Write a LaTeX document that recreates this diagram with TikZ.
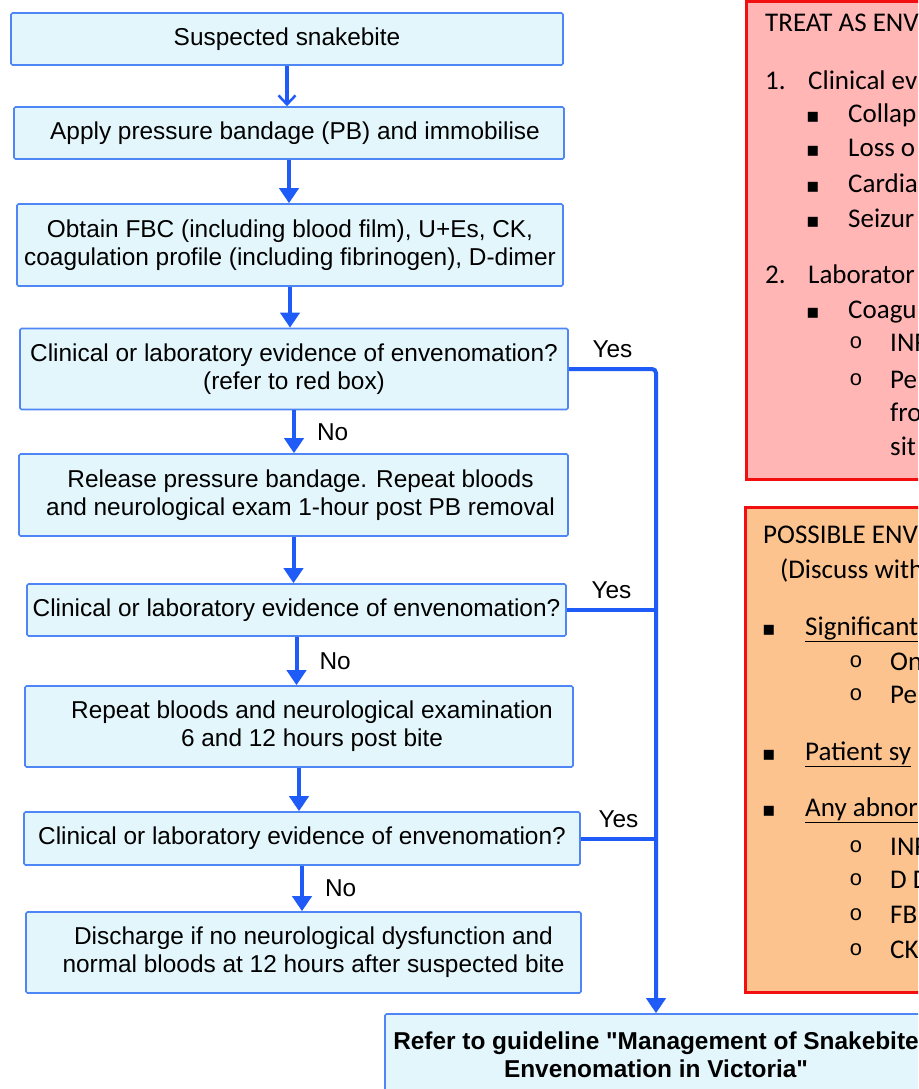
\documentclass[tikz,border=0pt]{standalone}
\usepackage{fontspec}
\setmainfont{Liberation Sans}[Ligatures=TeXOff]
\newfontfamily\calfont{Carlito}
\newfontfamily\bulfont{DejaVu Sans}
\newfontfamily\circfont{Liberation Mono}
\usetikzlibrary{arrows.meta}

\definecolor{lineblue}{HTML}{1F5BF7}
\definecolor{boxblue}{HTML}{4F86F5}
\definecolor{boxfill}{HTML}{E3F6FC}
\definecolor{redfill}{HTML}{FFB6B5}
\definecolor{orangefill}{HTML}{FCC38F}
\definecolor{redline}{HTML}{F20F0F}

\newcommand{\flowsize}{\fontsize{24.4}{28}\selectfont}
\newcommand{\calsize}{\fontsize{27}{31}\selectfont}

\tikzset{
    flowbox/.style={draw=boxblue, line width=1.6pt, fill=boxfill, rounded corners=1.5pt,
        align=center, inner sep=0pt, font=\flowsize},
    flow/.style={draw=lineblue, line width=4pt, -{Triangle[length=15pt,width=19pt]}},
    joinline/.style={draw=lineblue, line width=4pt},
    answer/.style={inner sep=0pt, font=\flowsize},
    sidetxt/.style={anchor=base west, inner sep=0pt, font=\calfont\calsize},
    sqbul/.style={anchor=base, inner sep=0pt, font=\bulfont\fontsize{20}{24}\selectfont},
    ocbul/.style={anchor=base, inner sep=0pt, yshift=3pt, font=\circfont\fontsize{22}{26}\selectfont},
}

\begin{document}
\begin{tikzpicture}[x=1pt, y=-1pt]
    \useasboundingbox (0,0) rectangle (918,1089);
    \clip (0,0) rectangle (918,1089);

    % flow chart
    \node[flowbox, minimum width=552pt, minimum height=52pt] (bite) at (287,39) {Suspected snakebite};
    \node[flowbox, minimum width=550pt, minimum height=52pt] (bandage) at (289,133)
        {\hspace*{12pt}Apply pressure bandage (PB) and immobilise};
    \node[flowbox, minimum width=546pt, minimum height=82pt] (bloods) at (290,245)
        {Obtain FBC (including blood film), U+Es, CK,\\coagulation profile (including fibrinogen), D-dimer};
    \node[flowbox, minimum width=548pt, minimum height=81pt] (check1) at (294,369)
        {Clinical or laboratory evidence of envenomation?\\(refer to red box)};
    \node[flowbox, minimum width=549pt, minimum height=82pt] (release) at (293.5,495)
        {\hspace*{14pt}Release pressure bandage. Repeat bloods\\\hspace*{14pt}and neurological exam 1-hour post PB removal};
    \node[flowbox, minimum width=539pt, minimum height=52pt] (check2) at (296.5,610)
        {Clinical or laboratory evidence of envenomation?};
    \node[flowbox, minimum width=548pt, minimum height=81pt] (repeat) at (299,726.5)
        {\hspace*{26pt}Repeat bloods and neurological examination\\\hspace*{26pt}6 and 12 hours post bite};
    \node[flowbox, minimum width=556pt, minimum height=53pt] (check3) at (302,838.5)
        {Clinical or laboratory evidence of envenomation?};
    \node[flowbox, minimum width=555pt, minimum height=81pt] (discharge) at (303.5,952.5)
        {\hspace*{20pt}Discharge if no neurological dysfunction and\\\hspace*{20pt}normal bloods at 12 hours after suspected bite};
    \node[flowbox, minimum width=542pt, minimum height=82pt, font=\flowsize\bfseries] (guide) at (656,1055)
        {Refer to guideline "Management of Snakebite\\Envenomation in Victoria"};

    \draw[draw=lineblue, line width=4pt, -{Straight Barb[length=9pt,width=17pt,line width=2.5pt]}]
        (bite.south) -- (bite.south |- bandage.north);
    \draw[flow] (bandage.south) -- (bandage.south |- bloods.north);
    \draw[flow] (bloods.south) -- (bloods.south |- check1.north);
    \draw[flow] (check1.south) -- node[answer, right=21pt] (no1) {No} (check1.south |- release.north);
    \draw[flow] (release.south) -- (release.south |- check2.north);
    \draw[flow] (check2.south) -- node[answer, right=21pt] (no2) {No} (check2.south |- repeat.north);
    \draw[flow] (repeat.south) -- (repeat.south |- check3.north);
    \draw[flow] (check3.south) -- node[answer, right=21pt] (no3) {No} (check3.south |- discharge.north);

    \draw[flow, rounded corners=4pt] (check1.east) -| node[answer, pos=0.25, above=9pt] (yes1) {Yes} (guide.north);
    \draw[joinline] (check2.east) -- node[answer, above=9pt] (yes2) {Yes} (check2.east -| guide.north);
    \draw[joinline] (check3.east) -- node[answer, above=9pt] (yes3) {Yes} (check3.east -| guide.north);

    % red box
    \draw[draw=redline, line width=3pt, fill=redfill] (746,2) rectangle (940,479);
    \node[sidetxt] (treat) at (765,32) {TREAT AS ENV};
    \node[sidetxt] (num1) at (765,90) {1.};
    \node[sidetxt] (clin) at (808,90) {Clinical ev};
    \node[sqbul] (rb1) at (813,123) {▪};
    \node[sidetxt] (collap) at (848,123) {Collap};
    \node[sqbul] (rb2) at (813,157) {▪};
    \node[sidetxt] (loss) at (848,157) {Loss o};
    \node[sqbul] (rb3) at (813,192) {▪};
    \node[sidetxt] (cardia) at (848,192) {Cardia};
    \node[sqbul] (rb4) at (813,227) {▪};
    \node[sidetxt] (seiz) at (848,227) {Seizur};
    \node[sidetxt] (num2) at (765,283) {2.};
    \node[sidetxt] (lab) at (808,283) {Laborator};
    \node[sqbul] (rb5) at (813,318) {▪};
    \node[sidetxt] (coag) at (848,318) {Coagu};
    \node[ocbul] (rc1) at (856,351) {o};
    \node[sidetxt] (inr1) at (890,351) {INR};
    \node[ocbul] (rc2) at (856,388) {o};
    \node[sidetxt] (pe1) at (890,388) {Pe};
    \node[sidetxt] (fro) at (890,421) {fro};
    \node[sidetxt] (sit) at (890,455) {sit};

    % orange box
    \draw[draw=redline, line width=3pt, fill=orangefill] (745,507) rectangle (940,992);
    \node[sidetxt] (poss) at (763,543) {POSSIBLE ENV};
    \node[sidetxt] (disc) at (780,578) {(Discuss with};
    \node[sqbul] (ob1) at (769,635) {▪};
    \node[sidetxt] (signif) at (805,635) {\underline{Significant}};
    \node[ocbul] (oc1) at (856,670) {o};
    \node[sidetxt] (on) at (890,670) {On};
    \node[ocbul] (oc2) at (856,703) {o};
    \node[sidetxt] (pe2) at (890,703) {Pe};
    \node[sqbul] (ob2) at (769,760) {▪};
    \node[sidetxt] (patient) at (805,760) {\underline{Patient sy}};
    \node[sqbul] (ob3) at (769,816) {▪};
    \node[sidetxt] (anyab) at (805,816) {\underline{Any abnor}};
    \node[ocbul] (oc3) at (856,855) {o};
    \node[sidetxt] (inr2) at (890,855) {INR};
    \node[ocbul] (oc4) at (856,888) {o};
    \node[sidetxt] (dd) at (890,888) {D D};
    \node[ocbul] (oc5) at (856,923) {o};
    \node[sidetxt] (fb) at (890,923) {FB};
    \node[ocbul] (oc6) at (856,958) {o};
    \node[sidetxt] (ck) at (890,958) {CK};
\end{tikzpicture}
\end{document}
